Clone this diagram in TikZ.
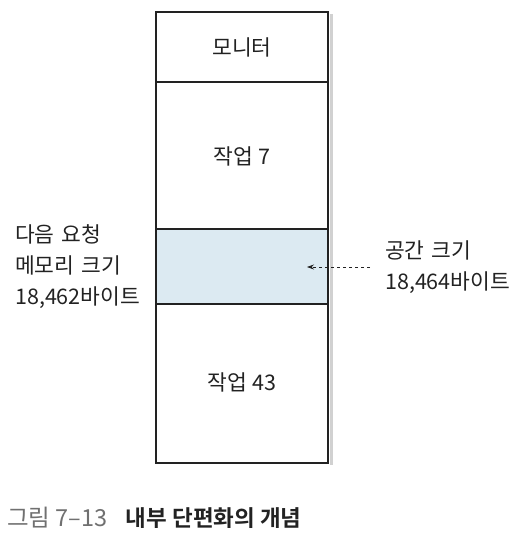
\documentclass[tikz,border=0pt]{standalone}
\usepackage{fontspec}
\setmainfont{Noto Sans CJK KR}
\newfontfamily\krbold{Noto Sans CJK KR Bold}
\usetikzlibrary{arrows.meta}
\definecolor{freeblue}{HTML}{DCEAF2}
\definecolor{capgray}{HTML}{707070}
\definecolor{txt}{HTML}{222222}
\tikzset{
  seg/.style={draw=txt, line width=1.6pt},
  lbl/.style={font=\fontsize{21.5}{31}\selectfont, text=txt, inner sep=0pt},
  side/.style={lbl, align=left, text width=140pt},
}
\begin{document}
\begin{tikzpicture}[x=1pt,y=-1pt]
\useasboundingbox (0,0) rectangle (523,537);
% shadow
\fill[black!18] (330,14) rectangle (333,465);
% segments
\fill[freeblue] (156,229) rectangle (328,304);
\draw[seg] (156,12) rectangle (328,463);
\draw[seg] (156,82) -- (328,82);
\draw[seg] (156,229) -- (328,229);
\draw[seg] (156,304) -- (328,304);
\node[lbl] (mon) at (242,47) {모니터};
\node[lbl] (job7) at (242,156) {작업 7};
\coordinate (free) at (307,267);
\node[lbl] (job43) at (242,382) {작업 43};
\node[side, anchor=west] (left) at (15,267) {다음 요청\\메모리 크기\\18,462바이트};
\node[side, anchor=west] (right) at (385,267) {공간 크기\\18,464바이트};
\draw[dashed, txt, line width=0.7pt, -{Stealth[length=7pt,width=5pt]}] (right.west) ++(-15,0) coordinate (rs) -- (free);
\node[lbl, anchor=west, text=capgray, font=\fontsize{23.5}{26}\selectfont] (cap1) at (7,518) {그림 7–13};
\node[lbl, anchor=west, font=\krbold\fontsize{22.5}{26}\selectfont] (cap2) at (cap1.east) [xshift=18pt] {내부 단편화의 개념};
\end{tikzpicture}
\end{document}
